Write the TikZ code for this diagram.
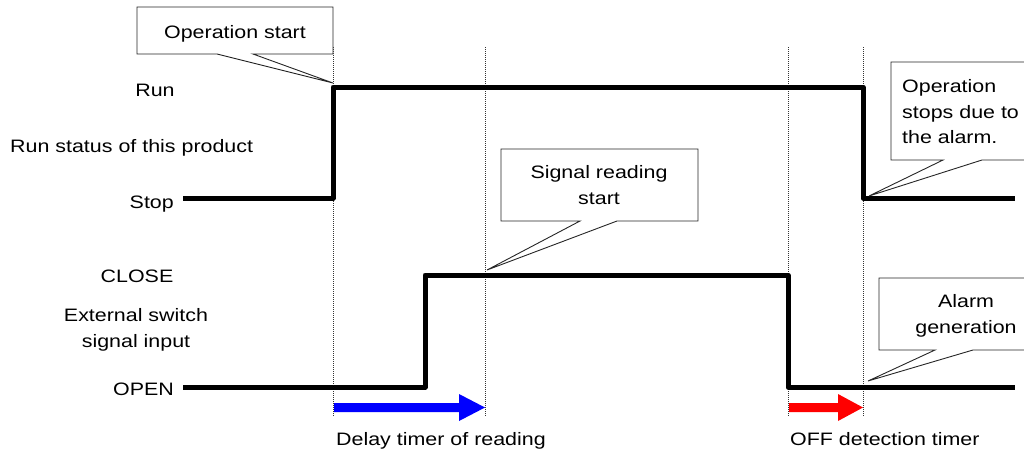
\documentclass[tikz,border=0pt]{standalone}
\usepackage{fontspec}
\setmainfont{Liberation Sans}[FakeStretch=1.19]
\begin{document}
\begin{tikzpicture}[x=1pt,y=-1pt,
  txt/.style={inner sep=0pt,font=\fontsize{18}{20}\selectfont},
  sig/.style={line width=5pt,line join=round},
  guide/.style={line width=0.6pt,dash pattern=on 1pt off 1pt,black!80},
  callout/.style={draw=black!85,line width=0.9pt,fill=white}]
\useasboundingbox (0,0) rectangle (1024,453);
\clip (0,0) rectangle (1024,453);
% guide lines
\foreach \gx/\gn in {333/ga,485/gb,788/gc,863/gd}{
  \coordinate (\gn top) at (\gx,47);
  \coordinate (\gn bot) at (\gx,416);
  \draw[guide] (\gn top) -- (\gn bot);
}
% signals
\draw[sig] (183,198) coordinate (s0) -- (333,198) -- (333,87) coordinate (runup) -- (863,87) -- (863,198) coordinate (rundown) -- (1015,198);
\draw[sig] (183,387) coordinate (e0) -- (425,387) -- (425,275) -- (788,275) coordinate (eclose) -- (788,387) -- (1015,387);
% labels
\node[txt,anchor=base] (lrun) at (155,96) {Run};
\node[txt,anchor=base west] (lstatus) at (10,152) {Run status of this product};
\node[txt,anchor=base east] (lstop) at (174,208) {Stop};
\node[txt,anchor=base] (lclose) at (137,282) {CLOSE};
\node[txt,anchor=base] (lext1) at (136,321) {External switch};
\node[txt,anchor=base] (lext2) at (136,347) {signal input};
\node[txt,anchor=base east] (lopen) at (174,395) {OPEN};
% callouts
\coordinate (t1) at (333,83);
\draw[callout] (137,7) -- (333,7) -- (333,54) -- (253,54) -- (t1) -- (217,54) -- (137,54) -- cycle;
\node[txt,anchor=base] (c1) at (235,38) {Operation start};
\coordinate (t2) at (487,270);
\draw[callout] (501,149) -- (698,149) -- (698,221) -- (617,221) -- (t2) -- (580,221) -- (501,221) -- cycle;
\node[txt,anchor=base] (c2a) at (599,178) {Signal reading};
\node[txt,anchor=base] (c2b) at (599,204) {start};
\coordinate (t3) at (869,196);
\draw[callout] (891,62) -- (1040,62) -- (1040,160) -- (982,160) -- (t3) -- (943,160) -- (891,160) -- cycle;
\node[txt,anchor=base west] (c3a) at (902,92) {Operation};
\node[txt,anchor=base west] (c3b) at (902,118) {stops due to};
\node[txt,anchor=base west] (c3c) at (902,143) {the alarm.};
\coordinate (t4) at (868,381);
\draw[callout] (879,278) -- (1040,278) -- (1040,350) -- (973,350) -- (t4) -- (935,350) -- (879,350) -- cycle;
\node[txt,anchor=base] (c4a) at (966,307) {Alarm};
\node[txt,anchor=base] (c4b) at (966,333) {generation};
% timers
\fill[blue] (334,403) -- (459,403) -- (459,394) -- (485,407.5) -- (459,421) -- (459,412) -- (334,412) -- cycle;
\fill[red] (789,403) -- (838,403) -- (838,394) -- (863,407.5) -- (838,421) -- (838,412) -- (789,412) -- cycle;
\node[txt,anchor=base west] (ld) at (336,445) {Delay timer of reading};
\node[txt,anchor=base west] (lo) at (790,445) {OFF detection timer};
\end{tikzpicture}
\end{document}
